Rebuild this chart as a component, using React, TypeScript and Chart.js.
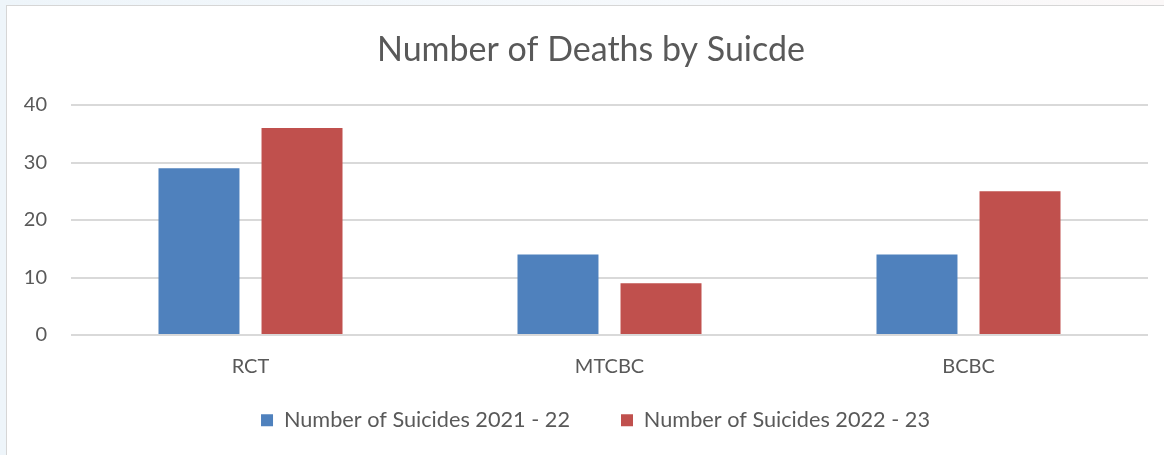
import { useEffect, useRef } from "react";
import { Chart, registerables } from "chart.js";

Chart.register(...registerables);

const chartTitle = "Number of Deaths by Suicde";
const categories = ["RCT", "MTCBC", "BCBC"];
const seriesLabels = ["Number of Suicides 2021 - 22", "Number of Suicides 2022 - 23"];
const suicides2021 = [29, 14, 14];
const suicides2022 = [36, 9, 25];
const yMin = 0;
const yMax = 40;
const yStep = 10;

const FONT = "Lato, 'Open Sans', sans-serif";
const TEXT = "#595959";

const nudgeBlocks = {
  id: "nudgeBlocks",
  afterLayout(chart: any) {
    const lg = chart.legend;
    if (lg) {
      lg.top -= 46.5;
      lg.left += 11.5;
      lg.right += 11.5;
    }
    const tb = chart.titleBlock;
    if (tb) {
      tb.left += 7;
      tb.right += 7;
    }
  },
};

export default function App() {
  const ref = useRef<HTMLCanvasElement>(null);

  useEffect(() => {
    if (!ref.current) return;
    const chart = new Chart(ref.current, {
      type: "bar",
      data: {
        labels: categories,
        datasets: [
          {
            label: seriesLabels[0],
            data: suicides2021,
            backgroundColor: "#4F81BD",
            barPercentage: 0.786,
            categoryPercentage: 0.574,
          },
          {
            label: seriesLabels[1],
            data: suicides2022,
            backgroundColor: "#C0504D",
            barPercentage: 0.786,
            categoryPercentage: 0.574,
          },
        ],
      },
      plugins: [nudgeBlocks],
      options: {
        responsive: false,
        animation: false,
        devicePixelRatio: 1,
        layout: { padding: { left: 20, right: 16, top: 0, bottom: 0 } },
        plugins: {
          title: {
            display: true,
            text: chartTitle,
            color: TEXT,
            font: { family: FONT, size: 34, weight: "normal" },
            padding: { top: 30.1, bottom: 34.1 },
          },
          legend: {
            position: "bottom",
            maxHeight: 50,
            labels: {
              boxWidth: 12,
              boxHeight: 12,
              padding: 51,
              color: TEXT,
              font: { family: FONT, size: 21.7 },
            },
          },
          tooltip: { enabled: false },
        },
        scales: {
          x: {
            grid: { display: false },
            border: { display: false },
            ticks: {
              color: TEXT,
              font: { family: FONT, size: 20 },
              padding: 11.5,
            },
            afterFit: (scale: any) => {
              scale.height = 70;
            },
          },
          y: {
            min: yMin,
            max: yMax,
            ticks: {
              stepSize: yStep,
              color: TEXT,
              font: { family: FONT, size: 20 },
              padding: 24,
            },
            grid: { color: "#D9D9D9", lineWidth: 2, drawTicks: false },
            border: { display: false },
            afterFit: (scale: any) => {
              scale.width = 51;
            },
          },
        },
      },
    });
    return () => chart.destroy();
  }, []);

  return (
    <div
      style={{
        position: "fixed",
        left: 0,
        top: 0,
        width: 1164,
        height: 455,
        background: "linear-gradient(90deg, #EEF5FA, #F6F9FC 60%, #FBF8F8)",
        overflow: "hidden",
      }}
    >
      <div
        style={{
          position: "absolute",
          left: 6,
          top: 5,
          width: 1170,
          height: 460,
          background: "#FFFFFF",
          border: "1.5px solid #D6D6D6",
          boxSizing: "border-box",
        }}
      />
      <canvas
        ref={ref}
        width={1164}
        height={455}
        style={{ position: "absolute", left: 0, top: 0, width: 1164, height: 455 }}
      />
    </div>
  );
}
